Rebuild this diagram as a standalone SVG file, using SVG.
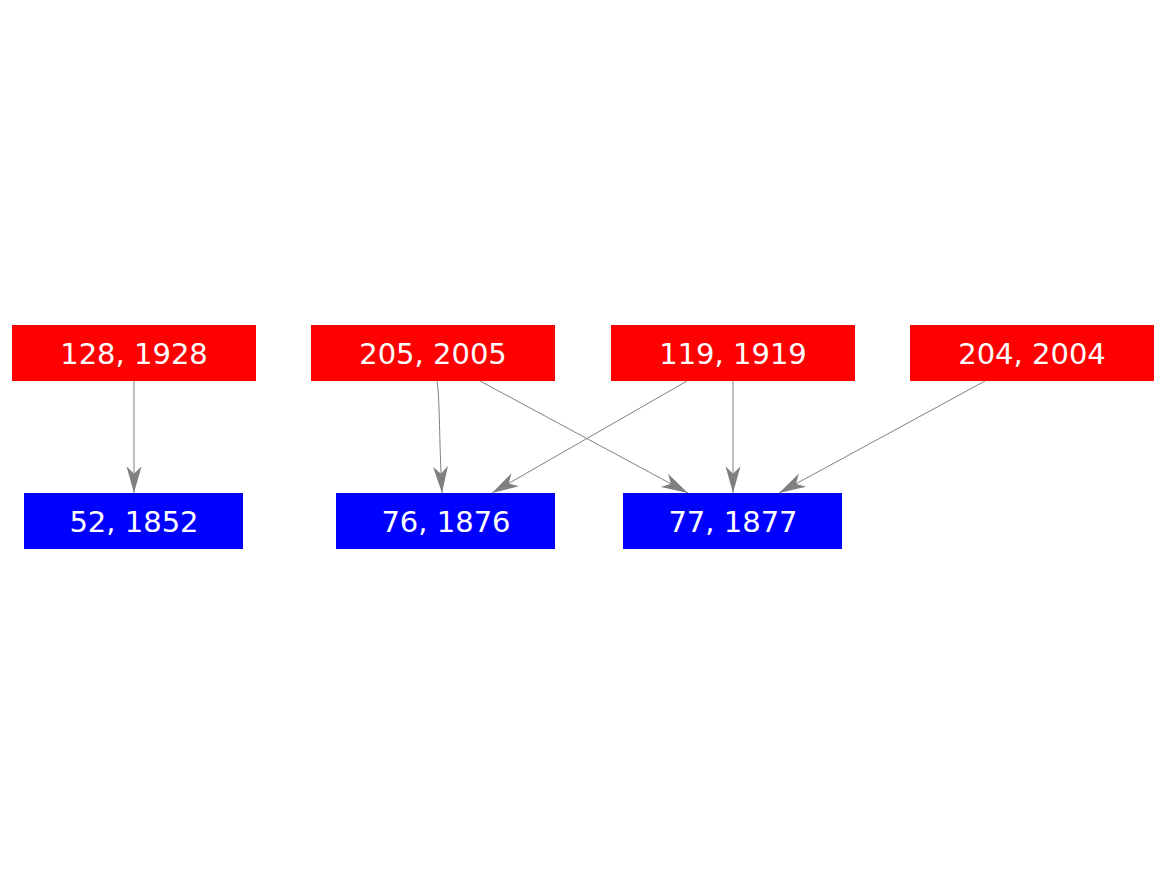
<svg xmlns="http://www.w3.org/2000/svg" width="1167" height="875" viewBox="0 0 1167 875">
<style>
.red{fill:#ff0000}
.blue{fill:#0000ff}
.lbl{font-family:"DejaVu Sans",sans-serif;font-size:29px;fill:#ffffff;text-anchor:middle}
.edge{fill:none;stroke:#808080;stroke-width:1}
</style>
<defs>
<marker id="vee" markerUnits="userSpaceOnUse" markerWidth="30" markerHeight="20" viewBox="-1 -8 28 16" refX="25" refY="0" orient="auto">
<path d="M0,-7 L25,0 L0,7 L7,0 Z" fill="#808080"/>
</marker>
</defs>
<rect width="1167" height="875" fill="#ffffff"/>
<g id="connectors">
<path class="edge" d="M134,381 L134,493" marker-end="url(#vee)"/>
<path class="edge" d="M437,381 C440,400 439,440 442,493" marker-end="url(#vee)"/>
<path class="edge" d="M480,381 L688,493" marker-end="url(#vee)"/>
<path class="edge" d="M687,381 L492,493" marker-end="url(#vee)"/>
<path class="edge" d="M733,381 L733,493" marker-end="url(#vee)"/>
<path class="edge" d="M985,381 L779,493" marker-end="url(#vee)"/>
</g>
<g id="n128"><rect class="red" x="12" y="325" width="244" height="56"/><text class="lbl" x="134" y="364">128, 1928</text></g>
<g id="n205"><rect class="red" x="311" y="325" width="244" height="56"/><text class="lbl" x="433" y="364">205, 2005</text></g>
<g id="n119"><rect class="red" x="611" y="325" width="244" height="56"/><text class="lbl" x="733" y="364">119, 1919</text></g>
<g id="n204"><rect class="red" x="910" y="325" width="244" height="56"/><text class="lbl" x="1032" y="364">204, 2004</text></g>
<g id="n52"><rect class="blue" x="24" y="493" width="219" height="56"/><text class="lbl" x="134" y="532">52, 1852</text></g>
<g id="n76"><rect class="blue" x="336" y="493" width="219" height="56"/><text class="lbl" x="446" y="532">76, 1876</text></g>
<g id="n77"><rect class="blue" x="623" y="493" width="219" height="56"/><text class="lbl" x="733" y="532">77, 1877</text></g>
</svg>
